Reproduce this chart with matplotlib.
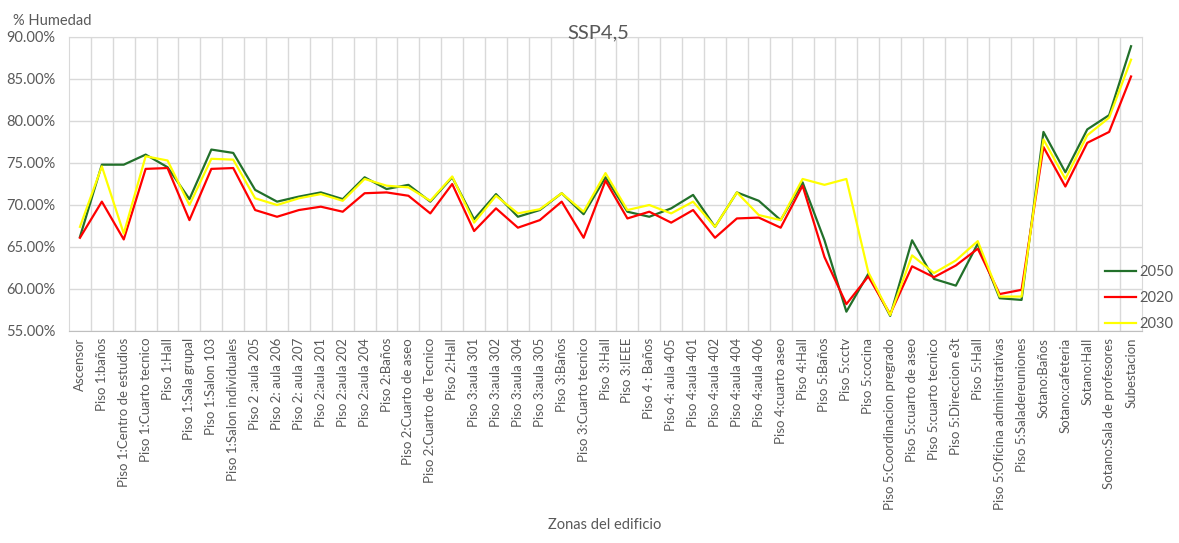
import matplotlib
matplotlib.use("Agg")
import matplotlib.pyplot as plt
import numpy as np
from matplotlib.ticker import FuncFormatter, MultipleLocator

plt.rcParams['font.family'] = ['Lato', 'DejaVu Sans']

zonas = [
    "Ascensor", "Piso 1:baños", "Piso 1:Centro de estudios", "Piso 1:Cuarto tecnico",
    "Piso 1:Hall", "Piso 1:Sala grupal", "Piso 1:Salon 103", "Piso 1:Salon individuales",
    "Piso 2 :aula 205", "Piso 2: aula 206", "Piso 2: aula 207", "Piso 2:aula 201",
    "Piso 2:aula 202", "Piso 2:aula 204", "Piso 2:Baños", "Piso 2:Cuarto de aseo",
    "Piso 2:Cuarto de Tecnico", "Piso 2:Hall", "Piso 3:aula 301", "Piso 3:aula 302",
    "Piso 3:aula 304", "Piso 3:aula 305", "Piso 3:Baños", "Piso 3:Cuarto tecnico",
    "Piso 3:Hall", "Piso 3:IEEE", "Piso 4 : Baños", "Piso 4: aula 405",
    "Piso 4:aula 401", "Piso 4:aula 402", "Piso 4:aula 404", "Piso 4:aula 406",
    "Piso 4:cuarto aseo", "Piso 4:Hall", "Piso 5:Baños", "Piso 5:cctv",
    "Piso 5:cocina", "Piso 5:Coordinacion pregrado", "Piso 5:cuarto de aseo",
    "Piso 5:cuarto tecnico", "Piso 5:Direccion e3t", "Piso 5:Hall",
    "Piso 5:Oficina administrativas", "Piso 5:Saladereuniones", "Sotano:Baños",
    "Sotano:cafeteria", "Sotano:Hall", "Sotano:Sala de profesores", "Subestacion",
]

# % humedad por zona
h2050 = [66.2, 74.8, 74.8, 76.0, 74.5, 70.7, 76.6, 76.2,
         71.8, 70.4, 71.0, 71.5, 70.7, 73.3, 71.9, 72.4,
         70.4, 73.3, 68.3, 71.3, 68.6, 69.4, 71.4, 68.9,
         73.3, 69.2, 68.6, 69.6, 71.2, 67.4, 71.5, 70.5,
         68.2, 72.7, 65.8, 57.3, 61.8, 56.8, 65.8, 61.2,
         60.4, 65.4, 58.9, 58.7, 78.7, 73.9, 79.0, 80.7, 88.9]
h2020 = [66.1, 70.4, 65.9, 74.3, 74.4, 68.2, 74.3, 74.4,
         69.4, 68.6, 69.4, 69.8, 69.2, 71.4, 71.5, 71.1,
         69.0, 72.5, 66.9, 69.6, 67.3, 68.2, 70.4, 66.1,
         72.9, 68.4, 69.2, 67.9, 69.4, 66.1, 68.4, 68.5,
         67.3, 72.3, 63.8, 58.2, 61.5, 57.0, 62.7, 61.4,
         62.8, 64.8, 59.4, 59.9, 76.9, 72.2, 77.4, 78.7, 85.3]
h2030 = [67.4, 74.6, 66.6, 75.8, 75.3, 70.0, 75.5, 75.4,
         70.8, 70.0, 70.8, 71.3, 70.5, 73.1, 72.3, 72.1,
         70.5, 73.4, 67.9, 71.1, 69.0, 69.5, 71.4, 69.2,
         73.8, 69.4, 70.0, 69.0, 70.4, 67.4, 71.5, 68.8,
         68.2, 73.1, 72.4, 73.1, 62.0, 56.9, 64.0, 61.9,
         63.4, 65.7, 59.1, 59.1, 77.8, 73.1, 78.3, 80.4, 87.3]

grey = '#595959'
fig = plt.figure(figsize=(11.79, 5.43), dpi=100)
ax = fig.add_axes([69/1179, 1-331/543, (1142-69)/1179, (331-37)/543])

x = np.arange(len(zonas))
ax.plot(x, h2050, color='#22702A', lw=1.6, label='2050')
ax.plot(x, h2020, color='#FF0000', lw=1.6, label='2020')
ax.plot(x, h2030, color='#FFFF00', lw=1.6, label='2030')

ax.set_xlim(-0.5, len(zonas) - 0.5)
ax.set_ylim(55, 90)
ax.yaxis.set_major_locator(MultipleLocator(5))
ax.yaxis.set_major_formatter(FuncFormatter(lambda v, p: f"{v:.2f}%"))
ax.set_xticks(x)
ax.set_xticklabels(zonas, rotation=90, fontsize=9.5, color=grey)
ax.set_xticks(x[:-1] + 0.5, minor=True)
ax.tick_params(axis='x', which='both', length=0, pad=5)
ax.tick_params(axis='y', length=0, pad=10, labelsize=10.5, labelcolor=grey)

ax.grid(axis='y', color='#D9D9D9', lw=1)
ax.grid(axis='x', which='minor', color='#D9D9D9', lw=1)
ax.grid(axis='x', which='major', visible=False)
ax.set_axisbelow(True)
for s in ax.spines.values():
    s.set_color('#D9D9D9')
ax.spines['bottom'].set_color('#BFBFBF')

fig.text(13/1179, 1-21/543, '% Humedad', fontsize=10.5, color=grey, va='center', ha='left')
fig.text(598/1179, 1-33/543, 'SSP4,5', fontsize=14.5, color=grey, va='center', ha='center')
fig.text(605/1179, 1-525/543, 'Zonas del edificio', fontsize=10.5, color=grey, va='center', ha='center')

leg = ax.legend(loc='center left', bbox_to_anchor=(1105/1179, 1-298/543),
                bbox_transform=fig.transFigure, frameon=False, fontsize=10.5,
                handlelength=2.1, handletextpad=0.25, labelspacing=0.85,
                borderpad=0, borderaxespad=0)
for t in leg.get_texts():
    t.set_color(grey)

fig.savefig('out.png', dpi=100)
